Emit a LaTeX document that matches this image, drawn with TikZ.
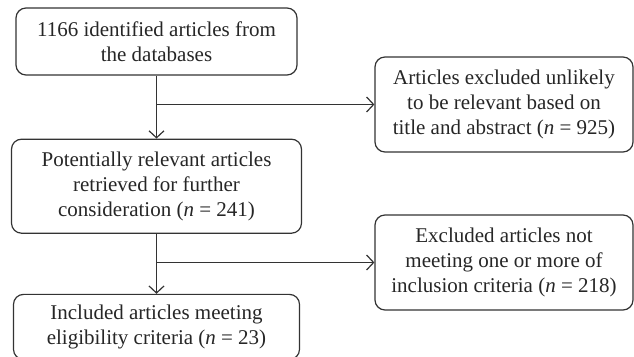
\documentclass[tikz,border=0pt]{standalone}
\usepackage{fontspec}
\setmainfont{Liberation Serif}
\usetikzlibrary{positioning,arrows.meta}
\begin{document}
\begin{tikzpicture}[x=0.5pt,y=-0.5pt,
  box/.style={draw=black!80,text=black!85,rounded corners=5pt,align=center,inner sep=0pt,line width=0.6pt,
    font=\fontsize{10.5}{12.5}\selectfont},
  link/.style={draw=black!80,line width=0.6pt,-{Straight Barb[length=3.5pt,width=7.5pt]}}]
\useasboundingbox (0,0) rectangle (634,357);
\node[box,minimum width=140.5pt,minimum height=33.5pt] (A) at (156.5,41.5) {1166 identified articles from\\the databases};
\node[box,minimum width=145pt,minimum height=47pt,below=31.5pt of A] (B) {Potentially relevant articles\\retrieved for further\\consideration (\textit{n} = 241)};
\node[box,minimum width=143pt,minimum height=32.5pt,below=30pt of B] (C) {Included articles meeting\\eligibility criteria (\textit{n} = 23)};
\node[box,minimum width=129pt,minimum height=47.5pt] (D) at (504,104.5) {Articles excluded unlikely\\to be relevant based on\\title and abstract (\textit{n} = 925)};
\node[box,minimum width=129pt,minimum height=47.5pt] (E) at (504,262.5) {Excluded articles not\\meeting one or more of\\inclusion criteria (\textit{n} = 218)};
\draw[link] (A.south) -- (B.north);
\draw[link] (B.south) -- (C.north);
\draw[link] (A.south |- D.west) -- (D.west);
\draw[link] (B.south |- E.west) -- (E.west);
\end{tikzpicture}
\end{document}
